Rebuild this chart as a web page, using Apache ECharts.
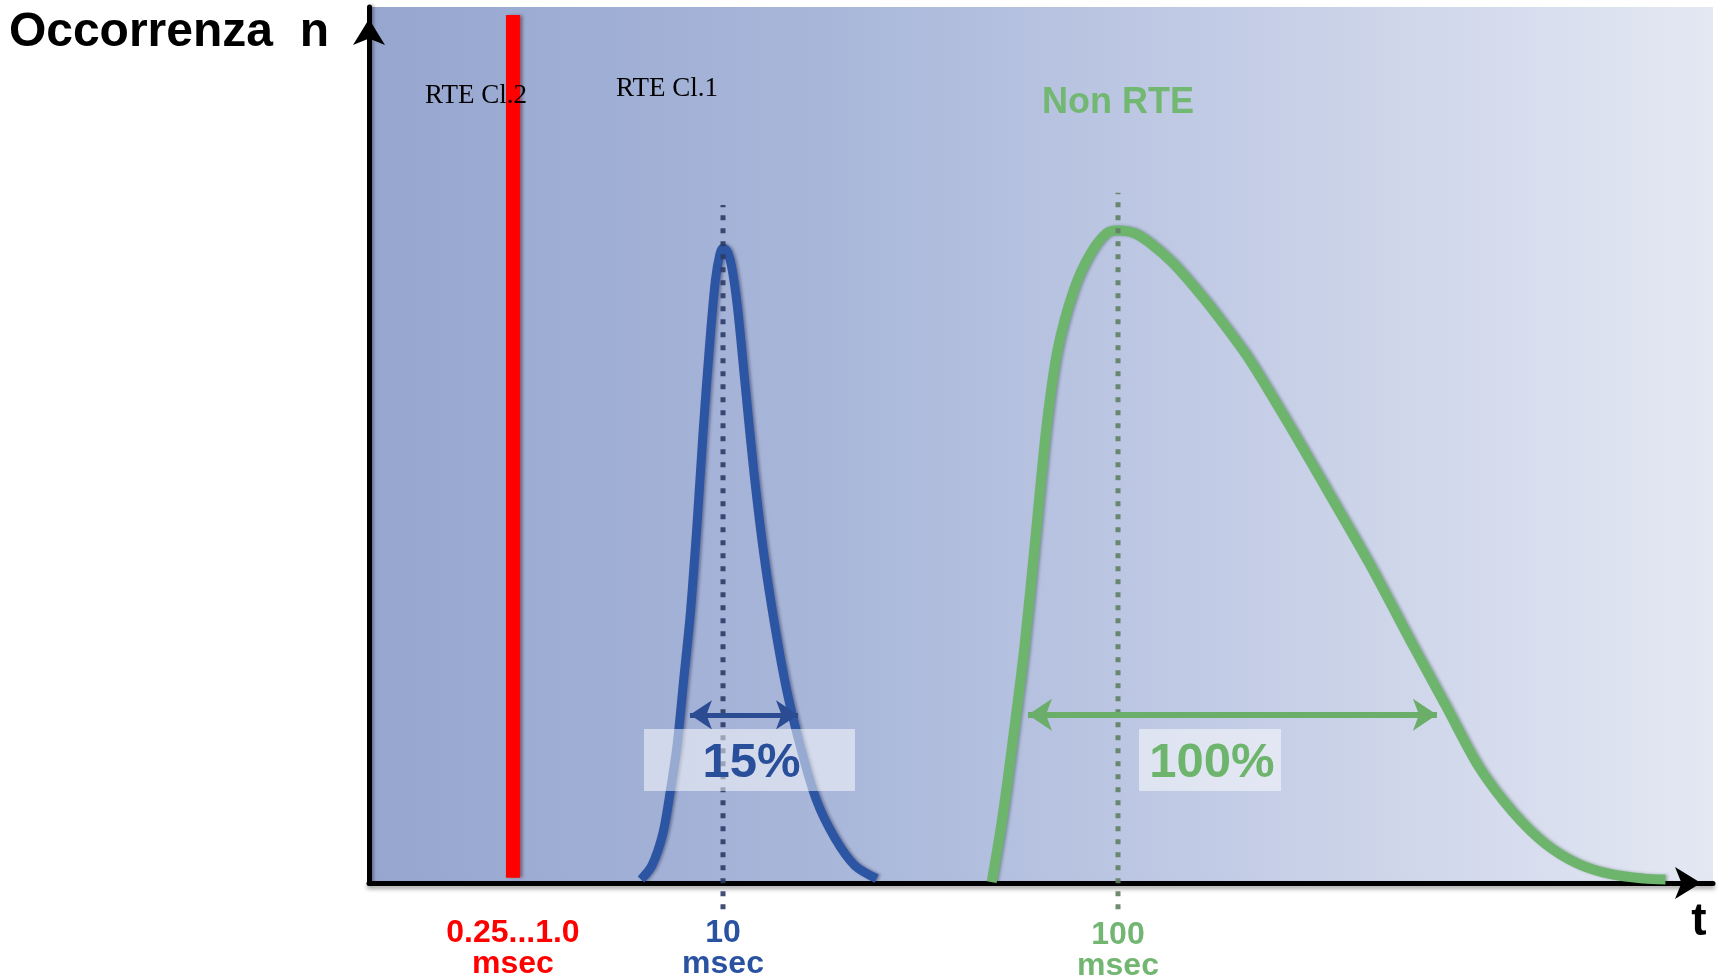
<!DOCTYPE html>
<html>
<head>
<meta charset="utf-8">
<script src="https://cdn.jsdelivr.net/npm/echarts@6/dist/echarts.min.js"></script>
<style>
html,body{margin:0;padding:0;background:#fff;}
#chart{width:1718px;height:979px;}
</style>
</head>
<body>
<div id="chart"></div>
<script>
// ---- Data (chart units: t on 0..100, occurrence n on 0..100) ----
const axisTitleY = 'Occorrenza  n';
const axisTitleX = 't';

const redLineX = 10.71;           // RTE Cl.2 threshold
const redLineTop = 99.1;

const blueCurveX = [20.24, 21.05, 21.87, 22.44, 22.93, 23.42, 23.91, 24.40, 24.88, 25.37, 25.78, 26.11, 26.35, 26.68, 27.00, 27.41, 27.98, 28.63, 29.37, 30.18, 31.08, 32.06, 33.28, 34.67, 36.14, 37.77];
const blueCurveY = [0.4, 2.0, 5.7, 10.7, 15.8, 23.3, 30.8, 40.8, 52.0, 62.0, 68.9, 71.8, 72.5, 72.0, 70.2, 65.8, 57.0, 47.0, 37.6, 29.5, 22.0, 15.8, 9.5, 5.1, 2.0, 0.5];

const greenCurveX = [46.33, 47.14, 47.96, 48.77, 49.59, 50.40, 51.22, 52.44, 53.66, 54.89, 55.70, 56.92, 58.15, 59.78, 61.41, 63.04, 65.48, 68.34, 71.19, 74.45, 77.71, 80.16, 82.60, 85.05, 87.50, 89.94, 92.39, 94.83, 96.46];
const greenCurveY = [0.1, 7.6, 17.0, 27.0, 39.5, 52.0, 60.8, 67.7, 71.8, 74.2, 74.5, 74.2, 73.0, 70.8, 68.0, 64.9, 59.8, 52.6, 45.1, 36.4, 27.0, 20.1, 13.2, 8.2, 4.5, 2.2, 1.0, 0.5, 0.4];

const peakX = [26.34, 55.73];            // blue, green dotted reference lines
const peakLineTop = [77.4, 78.8];
const peakLineBottom = -3.0;

const spreadArrowY = 19.2;
const blueSpread = [23.88, 31.92];
const greenSpread = [49.03, 79.46];

const tickValues = [10.71, 26.34, 55.73];
const tickLines1 = ['0.25...1.0', '10', '100'];
const tickLines2 = ['msec', 'msec', 'msec'];

const percentLabels = ['15%', '100%'];
const percentBoxes = [[20.46, 17.58, 36.16, 10.50], [57.29, 17.58, 67.86, 10.50]];

const annotationTexts = ['RTE Cl.2', 'RTE Cl.1', 'Non RTE'];
const annotationAt = [[7.96, 89.9], [22.17, 90.6], [55.73, 89.0]];

// ---- Styles ----
const RED = '#ff0000', BLUE = '#2c55a4', GREEN = '#6db56d';
const SANS = '"Liberation Sans", Arial, sans-serif';
const SERIF = '"Liberation Serif", "Times New Roman", serif';
const tickRich = ['r', 'b', 'g'];

const chart = echarts.init(document.getElementById('chart'), null, {renderer: 'canvas'});

const zip = (xs, ys) => xs.map((x, i) => [x, ys[i]]);

const option = {
  animation: false,
  grid: {
    left: 369, right: 5, top: 7, bottom: 96,
    outerBoundsMode: 'none', containLabel: false,
    show: true, borderWidth: 0,
    backgroundColor: new echarts.graphic.LinearGradient(0, 0, 1, 0, [
      {offset: 0, color: '#96a6cf'},
      {offset: 0.35, color: '#a9b7da'},
      {offset: 0.65, color: '#c4cde6'},
      {offset: 1, color: '#e4e8f3'}
    ])
  },
  xAxis: {
    type: 'value', min: 0, max: 100,
    splitLine: {show: false},
    axisTick: {show: false},
    axisLine: {
      show: true, onZero: false,
      symbol: ['none', 'arrow'], symbolSize: [24, 26], symbolOffset: [0, -12],
      lineStyle: {color: '#000', width: 5, shadowColor: 'rgba(0,0,0,0.35)', shadowBlur: 4, shadowOffsetY: 3}
    },
    name: axisTitleX, nameLocation: 'end', nameGap: -14,
    nameTextStyle: {fontFamily: SANS, fontWeight: 'bold', fontSize: 46, color: '#000', align: 'center', verticalAlign: 'top', padding: [16, 0, 0, 0]},
    axisLabel: {
      show: true,
      customValues: tickValues,
      margin: 35,
      formatter: function (v) {
        let k = 0, best = 1e9;
        tickValues.forEach((t, i) => { const d = Math.abs(t - v); if (d < best) { best = d; k = i; } });
        const s = tickRich[k];
        return '{' + s + '|' + tickLines1[k] + '}\n{' + s + '|' + tickLines2[k] + '}';
      },
      rich: {
        r: {color: RED, fontFamily: SANS, fontWeight: 'bold', fontSize: 32, lineHeight: 31},
        b: {color: '#2a52a0', fontFamily: SANS, fontWeight: 'bold', fontSize: 32, lineHeight: 31},
        g: {color: '#72b672', fontFamily: SANS, fontWeight: 'bold', fontSize: 32, lineHeight: 31, padding: [4, 0, 0, 0]}
      }
    }
  },
  yAxis: {
    type: 'value', min: 0, max: 100,
    splitLine: {show: false},
    axisTick: {show: false},
    axisLabel: {show: false},
    axisLine: {
      show: true, onZero: false,
      symbol: ['none', 'arrow'], symbolSize: [24, 26], symbolOffset: [0, -12],
      lineStyle: {color: '#000', width: 5, shadowColor: 'rgba(0,0,0,0.3)', shadowBlur: 3, shadowOffsetX: 2}
    },
    name: axisTitleY, nameLocation: 'end', nameGap: -26,
    nameTextStyle: {fontFamily: SANS, fontWeight: 'bold', fontSize: 48, color: '#000', align: 'right', verticalAlign: 'middle', padding: [0, 40, 0, 0]}
  },
  series: [
    {
      name: 'RTE Cl.2', type: 'line', symbol: 'none', z: 3,
      data: [[redLineX, 0.6], [redLineX, redLineTop]],
      lineStyle: {color: RED, width: 14, cap: 'butt', shadowColor: 'rgba(90,0,0,0.45)', shadowBlur: 3, shadowOffsetX: 3}
    },
    {
      name: 'RTE Cl.1', type: 'line', symbol: 'none', smooth: 0.3, z: 3,
      data: zip(blueCurveX, blueCurveY),
      lineStyle: {color: BLUE, width: 9, shadowColor: 'rgba(0,0,40,0.35)', shadowBlur: 3, shadowOffsetX: 2},
      markLine: {
        silent: true, symbol: ['arrow', 'arrow'], symbolSize: [22, 22],
        label: {show: false},
        lineStyle: {color: '#2b4c93', width: 5, type: 'solid'},
        data: [[{coord: [blueSpread[0], spreadArrowY]}, {coord: [blueSpread[1], spreadArrowY]}]]
      }
    },
    {
      name: 'Non RTE', type: 'line', symbol: 'none', smooth: 0.3, z: 3,
      data: zip(greenCurveX, greenCurveY),
      lineStyle: {color: GREEN, width: 10, shadowColor: 'rgba(0,40,0,0.3)', shadowBlur: 3, shadowOffsetX: 2},
      markLine: {
        silent: true, symbol: ['arrow', 'arrow'], symbolSize: [24, 24],
        label: {show: false},
        lineStyle: {color: '#6aae6a', width: 6, type: 'solid'},
        data: [[{coord: [greenSpread[0], spreadArrowY]}, {coord: [greenSpread[1], spreadArrowY]}]]
      }
    },
    {
      type: 'line', symbol: 'none', clip: false, z: 4,
      data: [[peakX[0], peakLineBottom], [peakX[0], peakLineTop[0]]],
      lineStyle: {color: '#2c3b66', width: 5, type: [5, 8], cap: 'butt', opacity: 0.9}
    },
    {
      type: 'line', symbol: 'none', clip: false, z: 4,
      data: [[peakX[1], peakLineBottom], [peakX[1], peakLineTop[1]]],
      lineStyle: {color: '#5f7f62', width: 5, type: [5, 8], cap: 'butt', opacity: 0.9}
    },
    {
      type: 'custom', z: 10, silent: true,
      data: percentBoxes.map((b, i) => b.concat([i])),
      renderItem: function (params, api) {
        const p1 = api.coord([api.value(0), api.value(1)]);
        const p2 = api.coord([api.value(2), api.value(3)]);
        const i = api.value(4);
        return {
          type: 'group', children: [
            {type: 'rect', shape: {x: p1[0], y: p1[1], width: p2[0] - p1[0], height: p2[1] - p1[1]},
             style: {fill: 'rgba(255,255,255,0.5)'}},
            {type: 'text', style: {text: percentLabels[i], x: (p1[0] + p2[0]) / 2 + 2, y: (p1[1] + p2[1]) / 2 + 3,
             align: 'center', verticalAlign: 'middle', fontFamily: SANS, fontWeight: 'bold', fontSize: 49,
             fill: i === 0 ? '#2a4f9a' : '#6db56d'}}
          ]
        };
      }
    },
    {
      type: 'custom', z: 10, silent: true,
      data: annotationAt.map((p, i) => p.concat([i])),
      renderItem: function (params, api) {
        const p = api.coord([api.value(0), api.value(1)]);
        const i = api.value(2);
        const isGreen = i === 2;
        return {
          type: 'text', z2: 20,
          style: {text: annotationTexts[i], x: p[0], y: p[1], align: 'center', verticalAlign: 'middle',
            fontFamily: isGreen ? SANS : SERIF, fontWeight: isGreen ? 'bold' : 'normal',
            fontSize: isGreen ? 36 : 27, fill: isGreen ? '#72b872' : '#000'}
        };
      }
    }
  ]
};
chart.setOption(option);
</script>
</body>
</html>
